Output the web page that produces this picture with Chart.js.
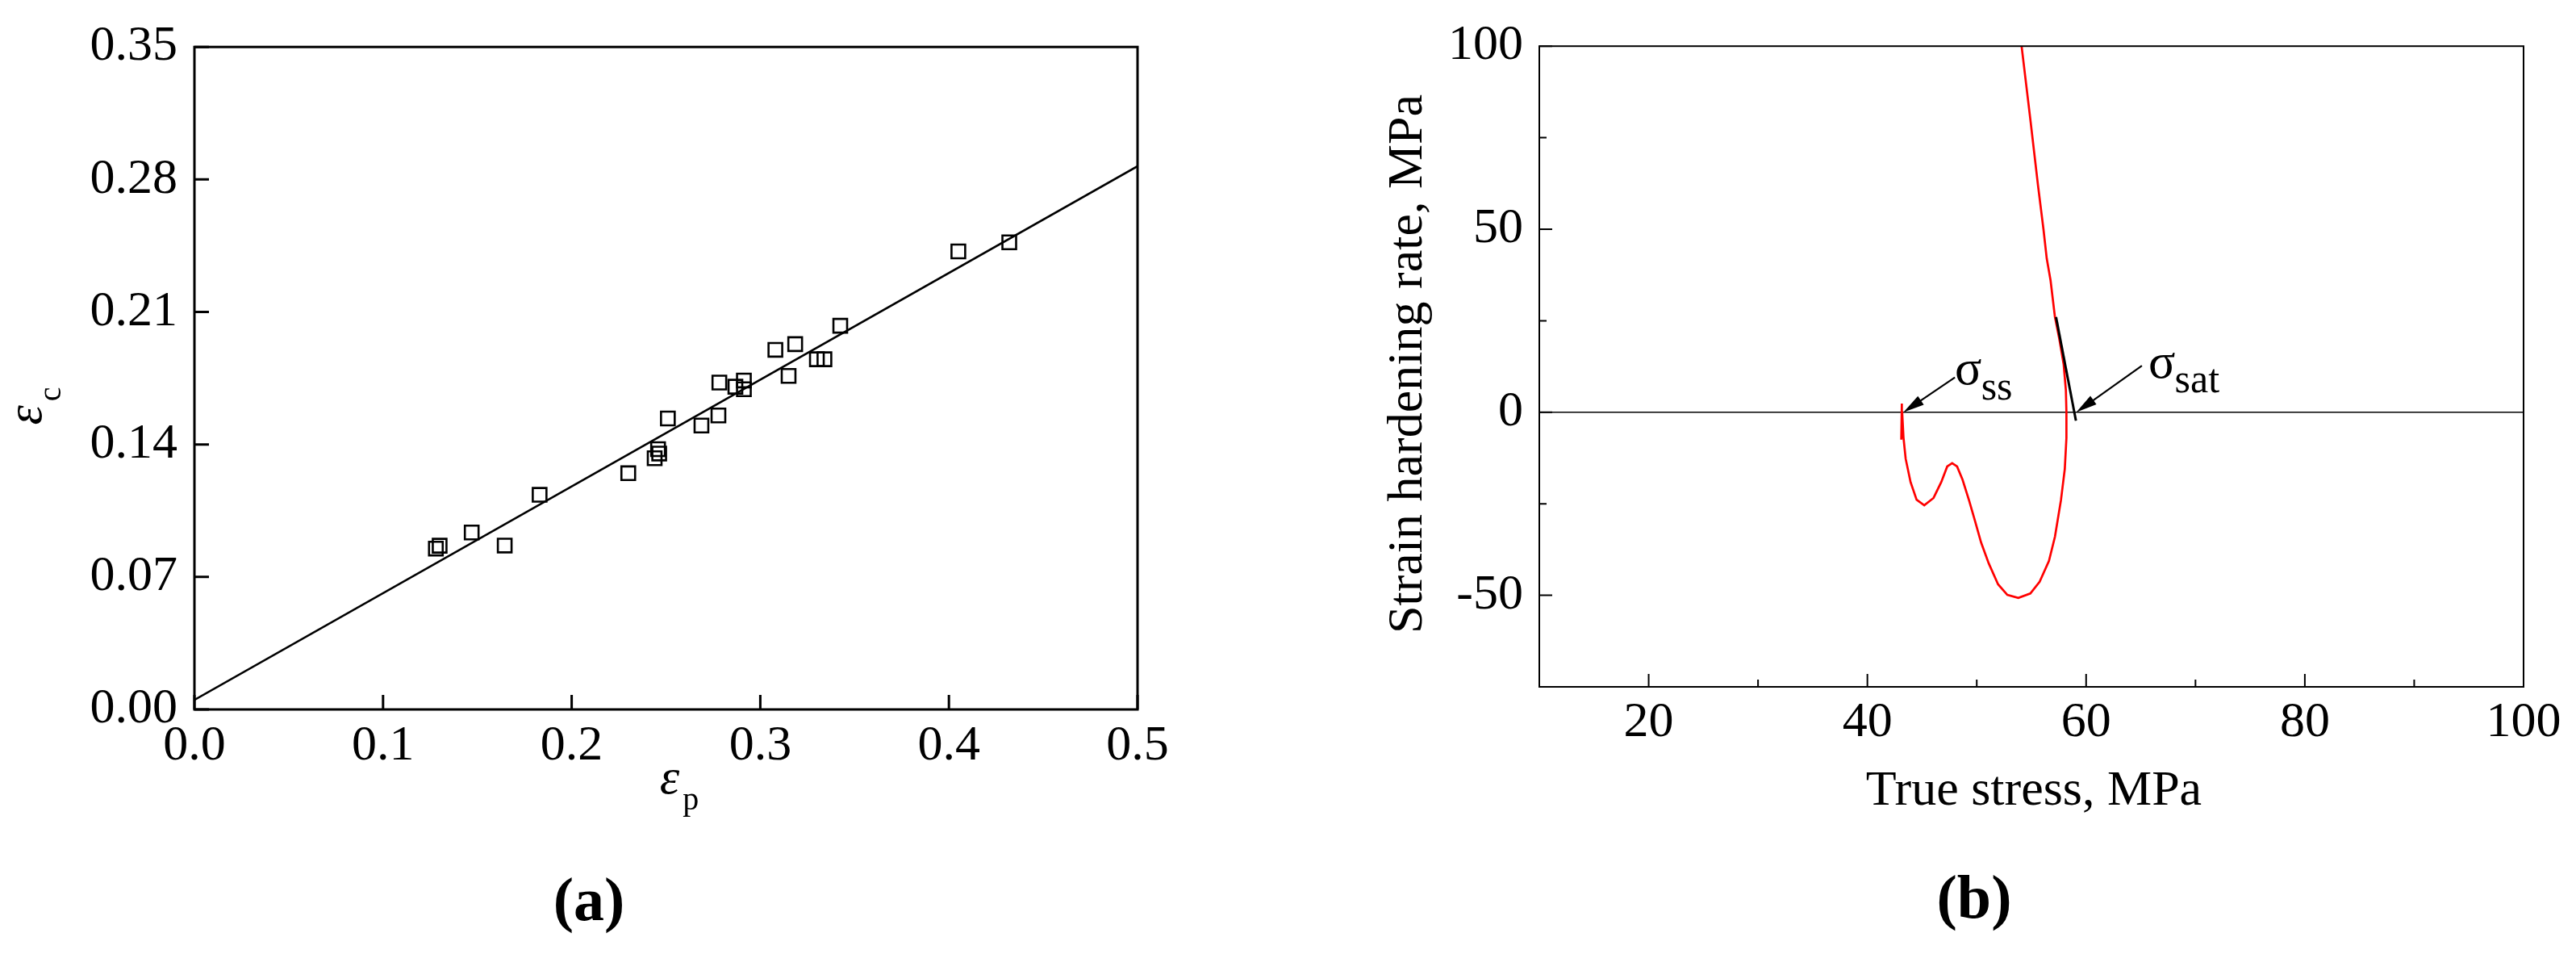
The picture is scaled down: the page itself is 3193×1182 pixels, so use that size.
<!DOCTYPE html>
<html lang="en">
<head>
<meta charset="UTF-8">
<title>Critical strain and strain hardening rate</title>
<script src="https://cdn.jsdelivr.net/npm/chart.js@4.4.1/dist/chart.umd.min.js"></script>
<style>
  html, body { margin: 0; padding: 0; background: #fff; }
  #wrap { position: relative; width: 3193px; height: 1182px; overflow: hidden; }
  canvas { position: absolute; top: 0; }
  #chartA { left: 0; }
  #chartB { left: 1560px; }
</style>
</head>
<body>
<div id="wrap">
  <canvas id="chartA" width="1560" height="1182"></canvas>
  <canvas id="chartB" width="1633" height="1182"></canvas>
</div>
<script>
const SERIF = "'Liberation Serif', 'Times New Roman', serif";

// (a) critical strain vs peak strain
const epsP = [0.128, 0.130, 0.147, 0.1645, 0.183, 0.230, 0.244, 0.2458, 0.2464, 0.251, 0.2688, 0.2778,
              0.2783, 0.2868, 0.2913, 0.2913, 0.308, 0.315, 0.3185, 0.330, 0.334, 0.3424, 0.405, 0.432];
const epsC = [0.085, 0.0865, 0.0935, 0.0866, 0.1134, 0.1248, 0.1327, 0.1375, 0.1352, 0.1537, 0.150, 0.1553,
              0.1727, 0.1705, 0.1738, 0.1692, 0.190, 0.1762, 0.193, 0.185, 0.185, 0.2027, 0.242, 0.2468];
const fitEpsP = [0, 0.5];
const fitEpsC = [0.005, 0.287];

// (b) strain hardening rate vs true stress
const trueStress = [54.1, 54.9, 55.6, 56.1, 56.4, 56.75, 57.15, 57.55, 57.95, 58.15, 58.2, 58.2, 58.05, 57.7,
                    57.15, 56.6, 55.75, 54.9, 53.8, 52.8, 51.95, 51.1, 50.4, 49.85, 49.3, 48.7, 48.2, 47.75,
                    47.3, 46.75, 46.05, 45.2, 44.5, 43.95, 43.5, 43.3, 43.18, 43.15, 43.1, 43.13];
const hardRate = [100, 80, 62, 50, 42, 36, 26, 20, 13, 6, 0, -7, -15.5, -24,
                  -34, -40.6, -46.3, -49.5, -50.7, -49.9, -47, -41.3, -35.6, -29.8, -24.1, -18.4, -14.8, -13.9,
                  -14.8, -19.1, -23.4, -25.4, -23.9, -19.1, -12.7, -6.9, 0, 2.4, -7.5, -3];
const tangentStress = [57.25, 59.07];
const tangentRate = [26, -2.3];
// arrows: [tail, tip]
const ssArrowStress = [48.0, 43.3];
const ssArrowRate = [9.5, 0];
const satArrowStress = [65.1, 59.1];
const satArrowRate = [12.7, 0];

function pts(xs, ys) {
  return xs.map((x, i) => ({ x: x, y: ys[i] }));
}

function drawRich(ctx, parts, x, y, rot) {
  // parts: [text, font, dy, gapAfter]; (x, y) = centre of the baseline
  ctx.save();
  ctx.translate(x, y);
  if (rot) ctx.rotate(rot);
  ctx.fillStyle = '#000';
  ctx.textAlign = 'left';
  ctx.textBaseline = 'alphabetic';
  let w = 0;
  parts.forEach(p => { ctx.font = p[1]; w += ctx.measureText(p[0]).width + (p[3] || 0); });
  let cx = -w / 2;
  parts.forEach(p => {
    ctx.font = p[1];
    ctx.fillText(p[0], cx, p[2]);
    cx += ctx.measureText(p[0]).width + (p[3] || 0);
  });
  ctx.restore();
}

function drawText(ctx, text, font, x, y, align, base, rot) {
  ctx.save();
  ctx.translate(x, y);
  if (rot) ctx.rotate(rot);
  ctx.font = font;
  ctx.fillStyle = '#000';
  ctx.textAlign = align || 'center';
  ctx.textBaseline = base || 'middle';
  ctx.fillText(text, 0, 0);
  ctx.restore();
}

function arrow(ctx, x0, y0, x1, y1) {
  const ang = Math.atan2(y1 - y0, x1 - x0);
  const len = 26, half = 6.5;
  ctx.save();
  ctx.strokeStyle = '#000';
  ctx.fillStyle = '#000';
  ctx.lineWidth = 2.2;
  ctx.beginPath();
  ctx.moveTo(x0, y0);
  ctx.lineTo(x1 - Math.cos(ang) * len * 0.8, y1 - Math.sin(ang) * len * 0.8);
  ctx.stroke();
  ctx.beginPath();
  ctx.moveTo(x1, y1);
  ctx.lineTo(x1 - Math.cos(ang) * len - Math.sin(ang) * half, y1 - Math.sin(ang) * len + Math.cos(ang) * half);
  ctx.lineTo(x1 - Math.cos(ang) * len + Math.sin(ang) * half, y1 - Math.sin(ang) * len - Math.cos(ang) * half);
  ctx.closePath();
  ctx.fill();
  ctx.restore();
}

// closed frame + inward tick marks
function frame(cfg) {
  return {
    id: 'frame',
    afterDatasetsDraw(chart) {
      const { ctx, chartArea: a, scales } = chart;
      ctx.save();
      ctx.strokeStyle = '#000';
      ctx.lineWidth = cfg.tickWidth;
      ctx.beginPath();
      scales.x.ticks.forEach(t => {
        const px = scales.x.getPixelForValue(t.value);
        const l = cfg.xMajor(t.value) ? cfg.major : cfg.minor;
        ctx.moveTo(px, a.bottom);
        ctx.lineTo(px, a.bottom - l);
      });
      scales.y.ticks.forEach(t => {
        const py = scales.y.getPixelForValue(t.value);
        const l = cfg.yMajor(t.value) ? cfg.major : cfg.minor;
        ctx.moveTo(a.left, py);
        ctx.lineTo(a.left + l, py);
      });
      ctx.stroke();
      ctx.lineWidth = cfg.boxWidth;
      ctx.strokeRect(a.left, a.top, a.right - a.left, a.bottom - a.top);
      ctx.restore();
    }
  };
}

const tickFont = { family: SERIF, size: 62 };
const F = '62px ' + SERIF;

// ---------- (a)
const labelsA = {
  id: 'labelsA',
  afterDraw(chart) {
    const ctx = chart.ctx;
    drawRich(ctx, [['\u03b5', 'italic 62px ' + SERIF, 0, 5], ['c', '40px ' + SERIF, 24]], 51, 503, -Math.PI / 2);
    drawRich(ctx, [['\u03b5', 'italic 62px ' + SERIF, 0, 4], ['p', '40px ' + SERIF, 20]], 842, 983);
    drawText(ctx, '(a)', 'bold 76px ' + SERIF, 730, 1120);
  }
};

new Chart(document.getElementById('chartA'), {
  type: 'scatter',
  data: {
    datasets: [
      {
        data: pts(fitEpsP, fitEpsC), showLine: true, borderColor: '#000', borderWidth: 2.5,
        pointRadius: 0, fill: false
      },
      {
        data: pts(epsP, epsC), pointStyle: 'rect', pointRadius: 12, borderWidth: 2.6,
        borderColor: '#000', backgroundColor: 'rgba(0,0,0,0)'
      }
    ]
  },
  options: {
    responsive: false, animation: false, events: [],
    layout: { padding: { left: 0, top: 48, right: 150, bottom: 0 } },
    plugins: { legend: { display: false }, tooltip: { enabled: false } },
    scales: {
      x: {
        type: 'linear', min: 0, max: 0.5,
        ticks: { stepSize: 0.1, autoSkip: false, maxRotation: 0, padding: 9, color: '#000', font: tickFont,
                 callback: v => v.toFixed(1) },
        grid: { display: false, drawTicks: false }, border: { display: false },
        afterFit: s => { s.height = 303; }
      },
      y: {
        type: 'linear', min: 0, max: 0.35,
        ticks: { stepSize: 0.07, autoSkip: false, padding: 21, color: '#000', font: tickFont,
                 callback: v => v.toFixed(2) },
        grid: { display: false, drawTicks: false }, border: { display: false },
        afterFit: s => { s.width = 241; }
      }
    }
  },
  plugins: [frame({ boxWidth: 3, tickWidth: 3, major: 18, minor: 18, xMajor: () => true, yMajor: () => true }), labelsA]
});

// ---------- (b)
const labelsB = {
  id: 'labelsB',
  afterDraw(chart) {
    const ctx = chart.ctx;
    const x = chart.scales.x, y = chart.scales.y;
    drawText(ctx, 'Strain hardening rate, MPa', F, 186, 451, 'center', 'middle', -Math.PI / 2);
    drawText(ctx, 'True stress, MPa', F, 961, 981);
    drawText(ctx, '(b)', 'bold 76px ' + SERIF, 887, 1117);

    arrow(ctx, x.getPixelForValue(ssArrowStress[0]), y.getPixelForValue(ssArrowRate[0]),
          x.getPixelForValue(ssArrowStress[1]), y.getPixelForValue(ssArrowRate[1]));
    arrow(ctx, x.getPixelForValue(satArrowStress[0]), y.getPixelForValue(satArrowRate[0]),
          x.getPixelForValue(satArrowStress[1]), y.getPixelForValue(satArrowRate[1]));

    drawText(ctx, '\u03c3', F, x.getPixelForValue(48.0), y.getPixelForValue(10.8) + 14, 'left', 'alphabetic');
    drawText(ctx, 'ss', '50px ' + SERIF, x.getPixelForValue(50.4), y.getPixelForValue(5.9) + 11, 'left', 'alphabetic');
    drawText(ctx, '\u03c3', F, x.getPixelForValue(65.7), y.getPixelForValue(12.6) + 14, 'left', 'alphabetic');
    drawText(ctx, 'sat', '50px ' + SERIF, x.getPixelForValue(68.1), y.getPixelForValue(8.0) + 11, 'left', 'alphabetic');
  }
};

new Chart(document.getElementById('chartB'), {
  type: 'scatter',
  data: {
    datasets: [
      {
        data: pts(tangentStress, tangentRate), showLine: true, borderColor: '#000', borderWidth: 3,
        pointRadius: 0, fill: false
      },
      {
        data: pts(trueStress, hardRate), showLine: true, borderColor: '#ff0000', borderWidth: 2.7,
        pointRadius: 0, fill: false, tension: 0
      }
    ]
  },
  options: {
    responsive: false, animation: false, events: [],
    layout: { padding: { left: 0, top: 36, right: 65, bottom: 0 } },
    plugins: { legend: { display: false }, tooltip: { enabled: false } },
    scales: {
      x: {
        type: 'linear', min: 10, max: 100,
        ticks: { stepSize: 10, autoSkip: false, maxRotation: 0, padding: 8, color: '#000', font: tickFont,
                 callback: v => (v % 20 === 0 ? String(v) : '') },
        grid: { display: false, drawTicks: false }, border: { display: false },
        afterFit: s => { s.height = 331; }
      },
      y: {
        type: 'linear', min: -75, max: 100,
        ticks: { stepSize: 25, autoSkip: false, padding: 20, color: '#000', font: tickFont,
                 callback: v => (v % 50 === 0 ? String(v) : '') },
        grid: { drawTicks: false, lineWidth: 1.6,
                color: c => (c.tick && c.tick.value === 0 ? '#000' : 'rgba(0,0,0,0)') },
        border: { display: false },
        afterFit: s => { s.width = 348; }
      }
    }
  },
  plugins: [frame({ boxWidth: 2, tickWidth: 2, major: 16, minor: 9,
                    xMajor: v => v % 20 === 0, yMajor: v => v % 50 === 0 }), labelsB]
});
</script>
</body>
</html>
